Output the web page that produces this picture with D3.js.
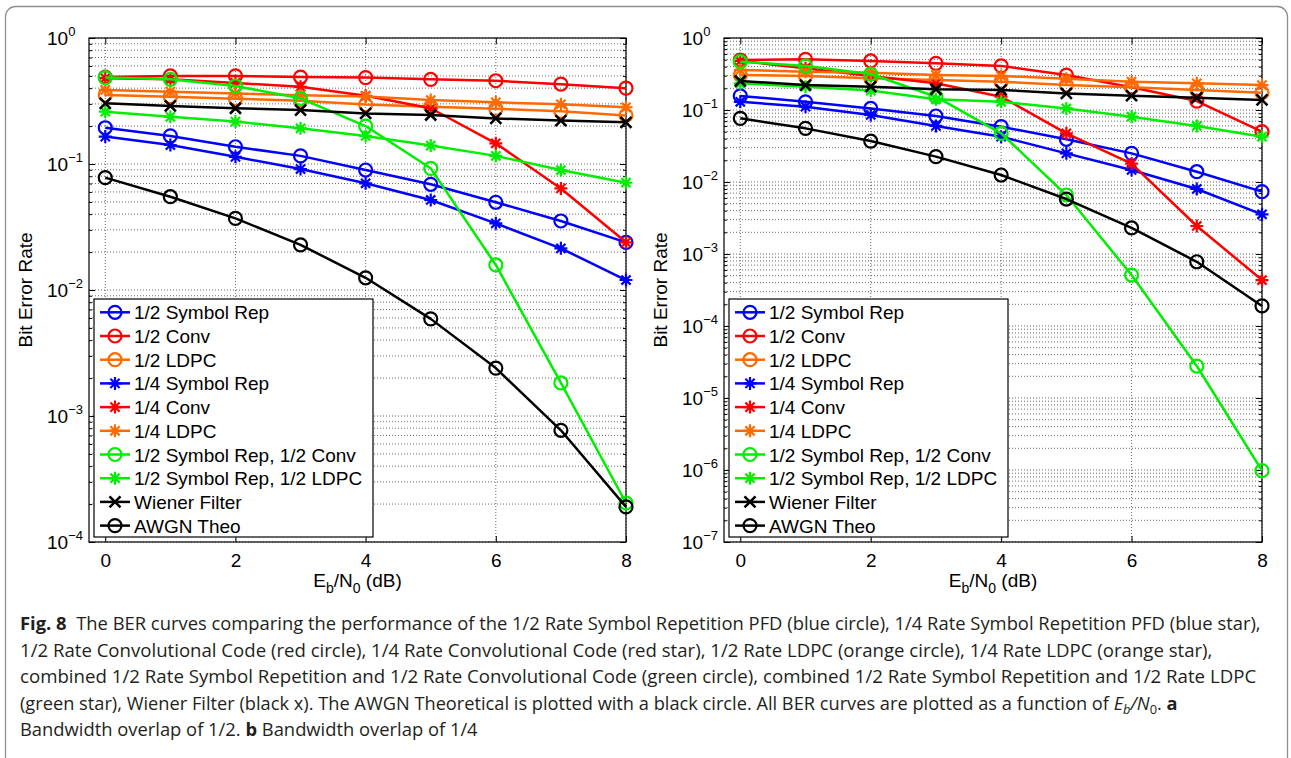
<!DOCTYPE html>
<html>
<head>
<meta charset="utf-8">
<script src="https://cdn.jsdelivr.net/npm/d3@7/dist/d3.min.js"></script>
<style>
body { margin: 0; background: #fff; }
svg text { font-family: "Liberation Sans", Arial, sans-serif; fill: #000; }
.caption text { font-family: "Open Sans", "Noto Sans", sans-serif; fill: #231f20; }
</style>
</head>
<body>
<svg width="1291" height="758"></svg>
<script>
// **** data ****
const ebn0 = [0, 1, 2, 3, 4, 5, 6, 7, 8];
const xTicks = [0, 2, 4, 6, 8];

const legendNames = ['1/2 Symbol Rep', '1/2 Conv', '1/2 LDPC', '1/4 Symbol Rep', '1/4 Conv', '1/4 LDPC',
  '1/2 Symbol Rep, 1/2 Conv', '1/2 Symbol Rep, 1/2 LDPC', 'Wiener Filter', 'AWGN Theo'];
const seriesColors = ['#0000ff', '#ff0000', '#ff6a00', '#0000ff', '#ff0000', '#ff6a00', '#00ee00', '#00ee00', '#000000', '#000000'];
const seriesMarkers = ['o', 'o', 'o', '*', '*', '*', 'o', '*', 'x', 'o'];

// (a) bandwidth overlap 1/2
const symRep12A = [0.194, 0.167, 0.137, 0.116, 0.0896, 0.069, 0.0497, 0.0353, 0.0239];
const conv12A = [0.49, 0.50, 0.50, 0.49, 0.485, 0.47, 0.458, 0.43, 0.40];
const ldpc12A = [0.353, 0.342, 0.33, 0.318, 0.296, 0.285, 0.275, 0.262, 0.243];
const symRep14A = [0.165, 0.1415, 0.114, 0.0912, 0.0703, 0.0518, 0.0338, 0.0214, 0.012];
const conv14A = [0.48, 0.47, 0.44, 0.41, 0.348, 0.277, 0.146, 0.064, 0.0239];
const ldpc14A = [0.387, 0.375, 0.363, 0.352, 0.344, 0.322, 0.309, 0.298, 0.282];
const repConvA = [0.485, 0.47, 0.416, 0.332, 0.2, 0.0924, 0.0158, 0.00183, 0.000204];
const repLdpcA = [0.26, 0.237, 0.217, 0.192, 0.167, 0.14, 0.116, 0.0896, 0.071];
const wienerA = [0.303, 0.289, 0.277, 0.268, 0.252, 0.245, 0.23, 0.221, 0.214];
const awgnA = [0.0779, 0.055, 0.037, 0.0228, 0.0125, 0.0059, 0.0024, 0.00077, 0.00019];

// (b) bandwidth overlap 1/4
const symRep12B = [0.157, 0.13, 0.105, 0.0825, 0.0587, 0.0392, 0.025, 0.0139, 0.00734];
const conv12B = [0.495, 0.506, 0.48, 0.445, 0.41, 0.306, 0.207, 0.133, 0.05];
const ldpc12B = [0.306, 0.297, 0.275, 0.26, 0.247, 0.222, 0.207, 0.19, 0.174];
const symRep14B = [0.13, 0.111, 0.0853, 0.06, 0.0426, 0.025, 0.0147, 0.008, 0.00356];
const conv14B = [0.48, 0.38, 0.297, 0.235, 0.153, 0.0474, 0.018, 0.00245, 0.000435];
const ldpc14B = [0.36, 0.34, 0.33, 0.306, 0.297, 0.272, 0.247, 0.235, 0.222];
const repConvB = [0.469, 0.41, 0.316, 0.153, 0.0474, 0.0066, 0.00051, 0.0000278, 0.00000098];
const repLdpcB = [0.235, 0.211, 0.186, 0.141, 0.13, 0.105, 0.0807, 0.06, 0.0426];
const wienerB = [0.253, 0.222, 0.211, 0.194, 0.19, 0.17, 0.158, 0.148, 0.138];
const awgnB = [0.0766, 0.0556, 0.037, 0.0225, 0.0125, 0.0058, 0.0023, 0.00078, 0.00019];

const seriesA = [symRep12A, conv12A, ldpc12A, symRep14A, conv14A, ldpc14A, repConvA, repLdpcA, wienerA, awgnA];
const seriesB = [symRep12B, conv12B, ldpc12B, symRep14B, conv14B, ldpc14B, repConvB, repLdpcB, wienerB, awgnB];

const captionLines = [
  [['b', 'Fig. 8'], ['n', '  The BER curves comparing the performance of the 1/2 Rate Symbol Repetition PFD (blue circle), 1/4 Rate Symbol Repetition PFD (blue star),']],
  [['n', '1/2 Rate Convolutional Code (red circle), 1/4 Rate Convolutional Code (red star), 1/2 Rate LDPC (orange circle), 1/4 Rate LDPC (orange star),']],
  [['n', 'combined 1/2 Rate Symbol Repetition and 1/2 Rate Convolutional Code (green circle), combined 1/2 Rate Symbol Repetition and 1/2 Rate LDPC']],
  [['n', '(green star), Wiener Filter (black x). The AWGN Theoretical is plotted with a black circle. All BER curves are plotted as a function of '],
   ['i', 'E'], ['isub', 'b'], ['iup', '/N'], ['sub', '0'], ['up', '. '], ['b', 'a']],
  [['n', 'Bandwidth overlap of 1/2. '], ['b', 'b'], ['n', ' Bandwidth overlap of 1/4']]
];
const captionWidths = [1241, 1193, 1237, 1158, 458];

// **** drawing ****
const svg = d3.select('svg');

svg.append('rect')
  .attr('x', 5.5).attr('y', 6.5).attr('width', 1282).attr('height', 800)
  .attr('rx', 10).attr('fill', 'none').attr('stroke', '#8f8f8f').attr('stroke-width', 1.3);

function markerPath(type) {
  const s = 6.5, a = s * 0.707;
  if (type === '*') return `M${-s},0H${s}M0,${-s}V${s}M${-a},${-a}L${a},${a}M${-a},${a}L${a},${-a}`;
  if (type === 'x') { const b = 5.5; return `M${-b},${-b}L${b},${b}M${-b},${b}L${b},${-b}`; }
  return null;
}

function drawMarker(g, type, color, cx, cy) {
  if (type === 'o') {
    g.append('circle').attr('cx', cx).attr('cy', cy).attr('r', 6.5)
      .attr('fill', 'none').attr('stroke', color).attr('stroke-width', 2.2);
  } else {
    g.append('path').attr('d', markerPath(type)).attr('transform', `translate(${cx},${cy})`)
      .attr('fill', 'none').attr('stroke', color).attr('stroke-width', type === 'x' ? 2.6 : 2.2);
  }
}

function drawPanel(left, right, top, bottom, minExp, series) {
  const x = d3.scaleLinear().domain([-0.25, 8]).range([left, right]);
  const y = d3.scaleLog().domain([Math.pow(10, minExp), 1]).range([bottom, top]);
  const g = svg.append('g');

  const majors = d3.range(minExp, 1).map(e => Math.pow(10, e));
  const minors = [];
  d3.range(minExp, 0).forEach(e => { for (let m = 2; m <= 9; m++) minors.push(m * Math.pow(10, e)); });

  // grid
  const grid = g.append('g').attr('stroke', '#444').attr('stroke-width', 0.8).attr('stroke-dasharray', '1,2');
  majors.concat(minors).forEach(v => {
    grid.append('line').attr('x1', left).attr('x2', right).attr('y1', y(v)).attr('y2', y(v));
  });
  xTicks.forEach(v => {
    grid.append('line').attr('x1', x(v)).attr('x2', x(v)).attr('y1', top).attr('y2', bottom);
  });

  // axes, ticks inward like matlab
  const axStyle = sel => { sel.select('.domain').remove(); sel.selectAll('line').attr('stroke', '#000'); };
  g.append('g').attr('transform', `translate(0,${bottom})`)
    .call(d3.axisBottom(x).tickValues(xTicks).tickSize(-6).tickPadding(12).tickFormat(d3.format('d')))
    .call(axStyle)
    .selectAll('text').attr('font-size', 19).attr('font-family', '"Liberation Sans", Arial, sans-serif');
  g.append('g').attr('transform', `translate(0,${top})`)
    .call(d3.axisTop(x).tickValues(xTicks).tickSize(-6).tickFormat('')).call(axStyle);

  g.append('g').attr('transform', `translate(${left},0)`)
    .call(d3.axisLeft(y).tickValues(majors).tickSize(-6).tickFormat('')).call(axStyle);
  g.append('g').attr('transform', `translate(${left},0)`)
    .call(d3.axisLeft(y).tickValues(minors).tickSize(-3).tickFormat('')).call(axStyle);
  g.append('g').attr('transform', `translate(${right},0)`)
    .call(d3.axisRight(y).tickValues(majors).tickSize(-6).tickFormat('')).call(axStyle);
  g.append('g').attr('transform', `translate(${right},0)`)
    .call(d3.axisRight(y).tickValues(minors).tickSize(-3).tickFormat('')).call(axStyle);

  majors.forEach(v => {
    const e = Math.round(Math.log10(v));
    const t = g.append('text').attr('x', left - 42).attr('y', y(v) + 7).attr('font-size', 19);
    t.append('tspan').text('10');
    t.append('tspan').attr('dy', -9).attr('font-size', 13).text(e === 0 ? '0' : '\u2212' + (-e));
  });

  g.append('rect').attr('x', left).attr('y', top).attr('width', right - left).attr('height', bottom - top)
    .attr('fill', 'none').attr('stroke', '#000').attr('stroke-width', 1.2);

  // axis labels
  const xl = g.append('text').attr('x', (left + right) / 2).attr('y', 587)
    .attr('text-anchor', 'middle').attr('font-size', 19);
  xl.append('tspan').text('E');
  xl.append('tspan').attr('dy', 6).attr('font-size', 14).text('b');
  xl.append('tspan').attr('dy', -6).text('/N');
  xl.append('tspan').attr('dy', 6).attr('font-size', 14).text('0');
  xl.append('tspan').attr('dy', -6).text(' (dB)');

  g.append('text').attr('transform', `translate(${left - 57},${(top + bottom) / 2}) rotate(-90)`)
    .attr('text-anchor', 'middle').attr('font-size', 19).text('Bit Error Rate');

  // series
  const line = d3.line().x((d, i) => x(ebn0[i])).y(d => y(d));
  series.forEach((vals, k) => {
    const sg = g.append('g');
    sg.append('path').attr('d', line(vals)).attr('fill', 'none')
      .attr('stroke', seriesColors[k]).attr('stroke-width', 2.5).attr('stroke-linejoin', 'round');
    vals.forEach((v, i) => drawMarker(sg, seriesMarkers[k], seriesColors[k], x(ebn0[i]), y(v)));
  });

  // legend
  const lx = left + 5, ly = 299;
  const lg = g.append('g');
  lg.append('rect').attr('x', lx).attr('y', ly).attr('width', 279).attr('height', 238)
    .attr('fill', '#fff').attr('stroke', '#000').attr('stroke-width', 1.2);
  legendNames.forEach((name, k) => {
    const ry = ly + 13.3 + k * 23.7;
    lg.append('line').attr('x1', lx + 6).attr('x2', lx + 36).attr('y1', ry).attr('y2', ry)
      .attr('stroke', seriesColors[k]).attr('stroke-width', 2.5);
    drawMarker(lg, seriesMarkers[k], seriesColors[k], lx + 21, ry);
    lg.append('text').attr('x', lx + 40).attr('y', ry + 7).attr('font-size', 19).text(name);
  });
}

drawPanel(89, 626, 38, 542, -4, seriesA);
drawPanel(724, 1262, 38, 542, -7, seriesB);

// caption: squeeze each line to the width it has in the figure
const cap = svg.append('g').attr('class', 'caption');
captionLines.forEach((parts, li) => {
  const t = cap.append('text').attr('x', 0).attr('y', 0).attr('font-size', 18.5)
    .attr('xml:space', 'preserve').style('white-space', 'pre');
  parts.forEach(([kind, str]) => {
    const ts = t.append('tspan').text(str);
    if (kind === 'b') ts.attr('font-weight', 'bold');
    if (kind === 'i') ts.attr('font-style', 'italic');
    if (kind === 'isub') ts.attr('font-style', 'italic').attr('font-size', 13).attr('dy', 4);
    if (kind === 'iup') ts.attr('font-style', 'italic').attr('dy', -4);
    if (kind === 'sub') ts.attr('font-size', 13).attr('dy', 4);
    if (kind === 'up') ts.attr('dy', -4);
  });
  const k = captionWidths[li] / t.node().getComputedTextLength();
  t.attr('transform', `translate(20,${630 + li * 26.5}) scale(${k},1)`);
});
</script>
</body>
</html>
